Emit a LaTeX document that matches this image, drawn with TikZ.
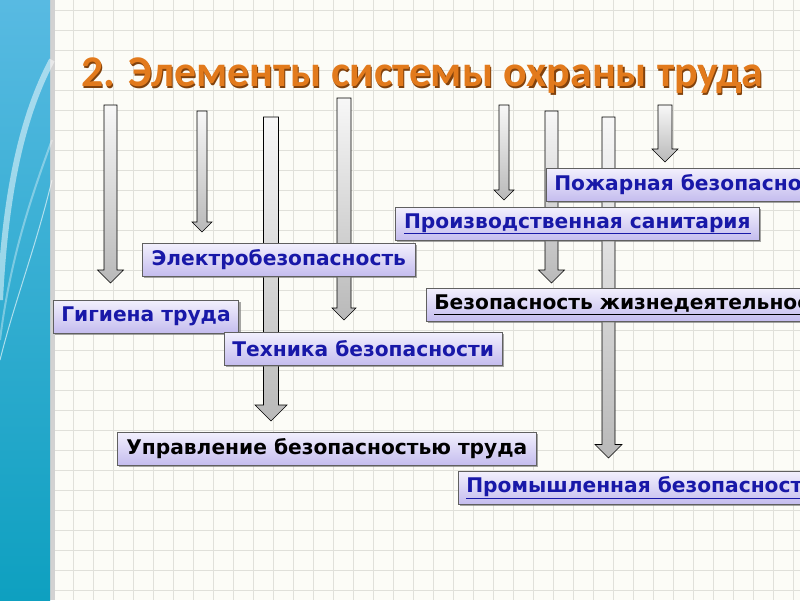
\documentclass[tikz,border=0pt]{standalone}
\usepackage{fontspec}
\setmainfont{DejaVu Sans}
\newfontfamily\titlefont{Carlito}
\usetikzlibrary{calc,shadows}
\definecolor{boxtop}{RGB}{242,240,253}
\definecolor{boxbot}{RGB}{196,188,238}
\definecolor{boxblue}{RGB}{24,24,168}
\definecolor{titleorange}{RGB}{226,122,28}
\definecolor{titleshadow}{RGB}{130,66,12}
\definecolor{gridline}{RGB}{224,224,218}
\definecolor{paper}{RGB}{252,252,247}
\definecolor{sidetop}{RGB}{88,186,226}
\definecolor{sidebot}{RGB}{14,160,192}
\tikzset{
  elem/.style={draw=gray!75!black, line width=0.6pt, top color=boxtop, bottom color=boxbot,
    text=boxblue, font=\fontsize{20.2}{22}\selectfont\bfseries, anchor=north west,
    minimum height=33pt, inner xsep=8pt, inner ysep=2pt,
    drop shadow={shadow xshift=2pt, shadow yshift=-2pt, fill=gray, opacity=0.45}},
  ghost/.style={elem, text opacity=0, fill opacity=0, draw opacity=0, drop shadow={opacity=0}},
  barrow/.style={draw=black, line width=0.6pt, top color=gray!6, bottom color=gray!55},
}
% block arrow: top coordinate, target node, gap, half shaft, half head
\newcommand{\blockarrow}[5]{%
  \draw[barrow] let \p1=(#1), \p2=($(#2.north -| #1)+(0,-#3)$) in
    (\x1-#4pt,\y1) -- (\x1-#4pt,\y2+#5pt) -- (\x1-#5pt,\y2+#5pt) -- (\x1,\y2)
    -- (\x1+#5pt,\y2+#5pt) -- (\x1+#4pt,\y2+#5pt) -- (\x1+#4pt,\y1) -- cycle;}
\begin{document}
\begin{tikzpicture}[x=1pt,y=-1pt]
  \useasboundingbox (0,0) rectangle (800,600);
  \clip (0,0) rectangle (800,600);
  % paper and grid
  \fill[paper] (0,0) rectangle (800,600);
  \foreach \gx in {13,33,...,793} \draw[gridline,line width=0.7pt] (\gx,0) -- (\gx,600);
  \foreach \gy in {10,30,...,590} \draw[gridline,line width=0.7pt] (0,\gy) -- (800,\gy);
  % side bar
  \fill[gray!35] (50,0) rectangle (55,600);
  \shade[top color=sidetop, bottom color=sidebot] (0,0) rectangle (50,600);
  \draw[white, opacity=0.5, line width=6pt] (52,60) .. controls (20,120) and (5,200) .. (0,300);
  \draw[white, opacity=0.35, line width=2pt] (52,140) .. controls (30,200) and (10,260) .. (0,340);
  \draw[white, opacity=0.6, line width=1pt] (52,180) .. controls (35,250) and (15,300) .. (0,360);

  % title
  \node[font=\titlefont\bfseries\fontsize{43.8}{50}\selectfont, text=titleshadow, anchor=west] at (79.2,77.2) {2. Элементы системы охраны труда};
  \node[font=\titlefont\bfseries\fontsize{43.8}{50}\selectfont, text=titleorange, anchor=west] (title) at (78,76) {2. Элементы системы охраны труда};

  % arrow tops
  \coordinate (a1) at (110.5,105);
  \coordinate (a2) at (202,111);
  \coordinate (a3) at (271,117);
  \coordinate (a4) at (344,98);
  \coordinate (a5) at (504,105);
  \coordinate (a6) at (551.5,111);
  \coordinate (a7) at (608.5,117);
  \coordinate (a8) at (665,105);

  % boxes (placed first for their anchors, drawn again on top)
  \path node[ghost, minimum width=184pt] (gig) at (53,300) {Гигиена труда}
        node[ghost, minimum width=273pt] (elec) at (142,243) {Электробезопасность}
        node[ghost, minimum width=275pt] (tech) at (224,332) {Техника безопасности}
        node[ghost, minimum width=419pt] (upr) at (117,432) {Управление безопасностью труда}
        node[ghost] (pozh) at (546,168) {Пожарная безопасность}
        node[ghost, minimum width=364pt] (prsan) at (395,207) {Производственная санитария}
        node[ghost] (bzh) at (426,288) {Безопасность жизнедеятельности}
        node[ghost] (prom) at (458,471) {Промышленная безопасность};

  % arrows
  \blockarrow{a1}{gig}{17}{6.5}{13}
  \blockarrow{a2}{elec}{11}{5}{10}
  \blockarrow{a3}{upr}{11}{7.5}{16}
  \blockarrow{a4}{tech}{12}{7}{12}
  \blockarrow{a5}{prsan}{7}{5}{10}
  \blockarrow{a6}{bzh}{5}{6.5}{13}
  \blockarrow{a7}{prom}{13}{6.5}{13.5}
  \blockarrow{a8}{pozh}{6}{7}{13}

  % boxes
  \node[elem, minimum width=273pt] at (142,243) {Электробезопасность};
  \node[elem, minimum width=184pt] at (53,300) {Гигиена труда};
  \node[elem, minimum width=275pt] at (224,332) {Техника безопасности};
  \node[elem, minimum width=419pt, text=black] at (117,432) {Управление безопасностью труда};
  \node[elem] at (546,168) {Пожарная безопасность};
  \node[elem, minimum width=364pt] at (395,207) {\underline{Производственная санитария}};
  \node[elem, text=black] at (426,288) {\underline{Безопасность жизнедеятельности}};
  \node[elem] at (458,471) {\underline{Промышленная безопасность}};
\end{tikzpicture}
\end{document}
